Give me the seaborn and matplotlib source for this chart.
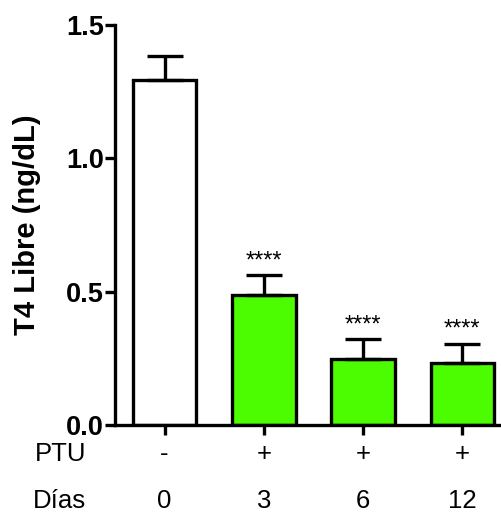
import matplotlib
matplotlib.use("Agg")
import matplotlib.pyplot as plt
import matplotlib.transforms as mtransforms
import seaborn as sns
import pandas as pd

# Data
dias = ["0", "3", "6", "12"]
ptu = ["-", "+", "+", "+"]
t4_libre = [1.295, 0.487, 0.248, 0.231]
t4_sem = [0.090, 0.074, 0.073, 0.074]
signif = ["", "****", "****", "****"]
bar_colors = ["#ffffff", "#4cfc00", "#4cfc00", "#4cfc00"]
yticks = [0.0, 0.5, 1.0, 1.5]

sns.set_style("ticks", rc={"axes.edgecolor": "black", "text.color": "black",
                           "xtick.color": "black", "ytick.color": "black",
                           "axes.labelcolor": "black"})
plt.rcParams["font.family"] = ["Liberation Sans", "DejaVu Sans"]

df = pd.DataFrame({"Dias": dias, "T4": t4_libre})

fig = plt.figure(figsize=(5.02, 5.13), dpi=100)
ax = fig.add_axes([115 / 502, 88 / 513, 397 / 502, 400 / 513])

sns.barplot(data=df, x="Dias", y="T4", hue="Dias", order=dias,
            palette=bar_colors, saturation=1, legend=False, width=0.64,
            edgecolor="black", linewidth=2.4, ax=ax)

# upper-only error bars (Prism style)
ax.errorbar(range(len(dias)), t4_libre, yerr=[[0] * len(dias), t4_sem],
            fmt="none", ecolor="black", elinewidth=2.4, capsize=13,
            capthick=2.4, zorder=1)

for i, s in enumerate(signif):
    if s:
        ax.text(i, t4_libre[i] + t4_sem[i] + 0.012, s, ha="center",
                va="bottom", fontsize=17)

ax.set_xlim(-0.5, 3.5)
ax.set_ylim(0, 1.5)
ax.set_yticks(yticks)
ax.set_yticklabels([f"{v:.1f}" for v in yticks], fontsize=19.5,
                   fontweight="bold")
ax.set_xticks(range(len(dias)))
ax.set_xticklabels([])
ax.set_xlabel("")
ax.set_ylabel("T4 Libre (ng/dL)", fontsize=21, fontweight="bold",
              labelpad=18)
ax.tick_params(axis="both", width=2.4, length=7, direction="out", pad=1)

sns.despine(ax=ax)
for side in ["left", "bottom"]:
    ax.spines[side].set_linewidth(2.4)

# row labels under the x axis
trans = mtransforms.blended_transform_factory(ax.transData, ax.transAxes)
for i in range(len(dias)):
    ax.text(i, -0.072, ptu[i], transform=trans, ha="center", va="center",
            fontsize=18.5)
    ax.text(i, -0.19, dias[i], transform=trans, ha="center", va="center",
            fontsize=18.5)
fig.text(35 / 502, 1 - 454 / 513, "PTU", ha="left", va="center", fontsize=18.5)
fig.text(33 / 502, 1 - 501 / 513, "Días", ha="left", va="center", fontsize=18.5)

fig.savefig("out.png", dpi=100)
